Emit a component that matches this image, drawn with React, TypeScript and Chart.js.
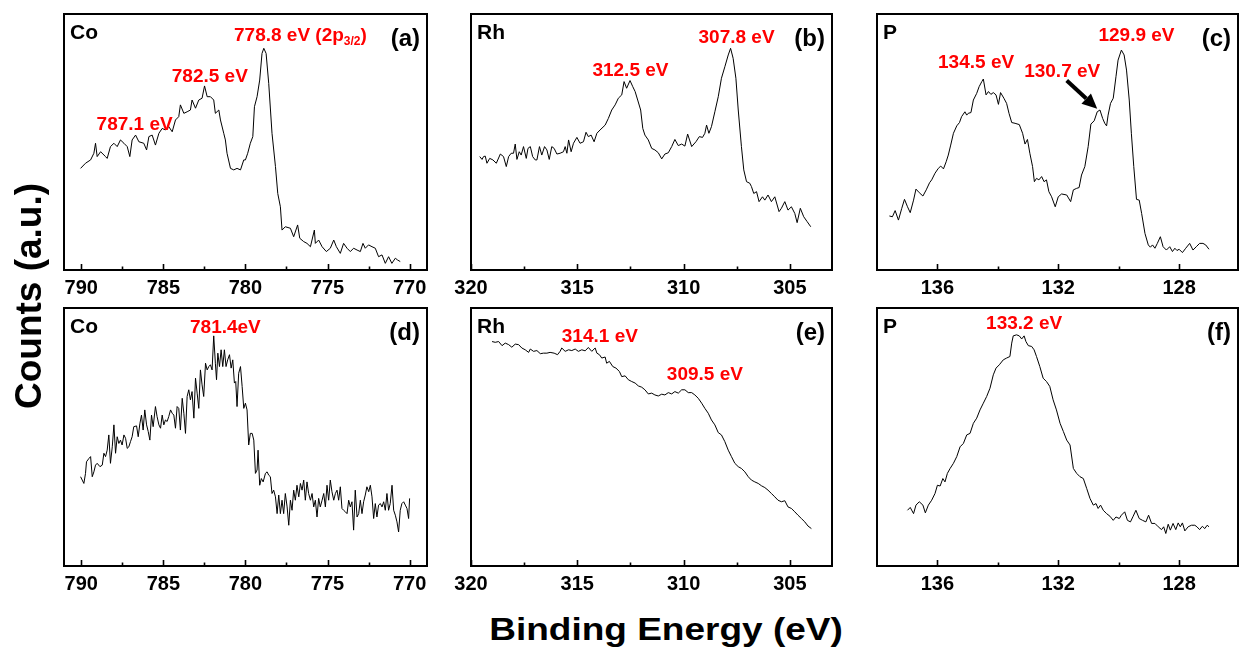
import React, { useEffect, useRef } from "react";
import { Chart, registerables } from "chart.js";

Chart.register(...registerables);

const FONT = '"Liberation Sans", Arial, Helvetica, sans-serif';

// ---------- tick labels ----------
const CO_TICKS = [790, 785, 780, 775, 770];
const CO_MINOR = [787.5, 782.5, 777.5, 772.5];
const RH_TICKS = [320, 315, 310, 305];
const RH_MINOR = [317.5, 312.5, 307.5];
const P_TICKS = [136, 132, 128];
const P_MINOR = [134, 130];

// ---------- (a) Co 2p, before ----------
const A_E = [790.04, 789.74, 789.43, 789.23, 789.13, 789.03, 788.82, 788.52, 788.42, 788.22, 788.01, 787.81, 787.61, 787.40, 787.20, 787.04, 786.90, 786.69, 786.49, 786.19, 786.02, 785.88, 785.68, 785.48, 785.27, 785.07, 784.87, 784.67, 784.46, 784.26, 784.06, 783.96, 783.75, 783.55, 783.35, 783.25, 783.04, 782.84, 782.64, 782.49, 782.33, 782.13, 781.93, 781.83, 781.62, 781.52, 781.32, 781.22, 781.12, 780.91, 780.71, 780.51, 780.30, 780.10, 780.00, 779.86, 779.70, 779.55, 779.45, 779.29, 779.13, 778.99, 778.88, 778.74, 778.58, 778.38, 778.17, 778.03, 777.87, 777.77, 777.57, 777.26, 777.06, 776.82, 776.69, 776.45, 776.25, 776.04, 775.80, 775.74, 775.54, 775.33, 775.07, 774.83, 774.62, 774.46, 774.22, 774.02, 773.81, 773.61, 773.41, 773.20, 773.00, 772.84, 772.70, 772.50, 772.29, 772.09, 771.89, 771.68, 771.48, 771.28, 771.08, 770.87, 770.73, 770.57];
const A_I = [39.7, 41.7, 43.0, 45.6, 49.5, 44.3, 46.2, 44.3, 43.6, 48.2, 49.5, 48.2, 50.8, 49.5, 48.2, 44.3, 50.8, 52.7, 50.1, 49.5, 46.9, 52.1, 52.7, 48.8, 53.4, 55.3, 54.7, 56.0, 54.0, 58.6, 59.9, 64.5, 61.2, 61.8, 62.5, 66.4, 63.2, 66.4, 67.1, 71.9, 67.7, 67.7, 66.4, 61.2, 62.5, 58.6, 53.4, 50.8, 45.6, 39.7, 39.1, 39.7, 39.1, 43.0, 43.0, 45.6, 49.5, 52.1, 63.8, 67.7, 74.2, 84.6, 86.6, 84.6, 72.9, 53.4, 40.4, 29.9, 24.7, 15.6, 16.9, 16.3, 13.0, 17.6, 12.4, 11.1, 10.4, 9.1, 15.6, 10.4, 11.7, 9.1, 7.2, 8.5, 11.7, 9.1, 6.5, 10.4, 8.5, 7.2, 8.5, 7.8, 7.2, 10.4, 8.5, 9.8, 9.1, 8.5, 5.2, 5.9, 2.6, 5.2, 2.6, 4.6, 3.9, 3.3];

// ---------- (b) Rh 3d, before ----------
const B_E = [319.59, 319.48, 319.41, 319.33, 319.25, 319.12, 318.97, 318.81, 318.62, 318.47, 318.34, 318.23, 318.11, 318.00, 317.92, 317.84, 317.73, 317.64, 317.53, 317.40, 317.32, 317.21, 317.10, 316.98, 316.90, 316.78, 316.67, 316.54, 316.43, 316.32, 316.20, 316.09, 315.96, 315.81, 315.65, 315.57, 315.49, 315.41, 315.29, 315.18, 315.02, 314.87, 314.71, 314.59, 314.48, 314.35, 314.21, 314.08, 313.93, 313.69, 313.54, 313.38, 313.22, 313.07, 312.91, 312.80, 312.68, 312.52, 312.39, 312.28, 312.16, 312.02, 311.92, 311.82, 311.66, 311.50, 311.35, 311.19, 311.03, 310.88, 310.72, 310.56, 310.41, 310.25, 310.09, 309.94, 309.81, 309.62, 309.42, 309.26, 309.11, 309.00, 308.92, 308.81, 308.69, 308.53, 308.37, 308.22, 308.06, 307.90, 307.79, 307.67, 307.54, 307.43, 307.28, 307.17, 307.04, 306.89, 306.81, 306.70, 306.57, 306.45, 306.29, 306.18, 306.03, 305.87, 305.71, 305.51, 305.40, 305.24, 305.09, 304.93, 304.77, 304.66, 304.51, 304.35, 304.19, 304.02];
const B_I = [44.3, 43.2, 44.3, 44.5, 41.7, 43.6, 43.0, 41.7, 45.3, 44.3, 40.4, 44.3, 45.6, 45.6, 49.2, 43.2, 46.2, 44.9, 48.2, 43.6, 47.5, 48.2, 44.3, 43.0, 43.0, 48.2, 44.9, 48.2, 46.9, 43.2, 48.2, 47.5, 45.3, 45.6, 46.2, 48.2, 45.6, 50.8, 46.2, 49.5, 51.8, 49.5, 50.1, 53.8, 52.1, 52.7, 50.1, 53.4, 54.7, 56.6, 59.2, 62.5, 64.5, 67.1, 68.4, 73.6, 71.0, 74.0, 71.6, 69.7, 66.4, 62.5, 55.3, 52.7, 50.8, 47.5, 46.9, 45.8, 43.4, 45.3, 45.8, 48.2, 51.0, 48.6, 49.2, 48.4, 53.1, 48.2, 50.1, 52.1, 51.8, 53.4, 56.6, 53.4, 56.0, 61.8, 67.7, 74.9, 79.4, 84.0, 86.6, 82.7, 74.9, 62.5, 48.2, 39.1, 34.5, 33.9, 32.6, 29.9, 30.6, 26.7, 28.6, 27.3, 29.3, 26.7, 28.6, 22.8, 24.1, 26.7, 23.4, 24.7, 22.1, 18.5, 24.1, 20.8, 18.9, 16.9];

// ---------- (c) P 2p, before ----------
const C_E = [137.59, 137.49, 137.40, 137.29, 137.18, 137.09, 136.99, 136.90, 136.79, 136.71, 136.60, 136.48, 136.37, 136.26, 136.19, 136.08, 135.97, 135.89, 135.80, 135.71, 135.64, 135.56, 135.47, 135.36, 135.27, 135.20, 135.09, 135.03, 134.98, 134.89, 134.81, 134.70, 134.62, 134.53, 134.48, 134.39, 134.31, 134.23, 134.15, 134.06, 133.98, 133.91, 133.80, 133.71, 133.63, 133.54, 133.43, 133.29, 133.18, 133.10, 133.02, 132.94, 132.85, 132.79, 132.72, 132.64, 132.55, 132.47, 132.39, 132.31, 132.22, 132.10, 132.00, 131.89, 131.72, 131.59, 131.50, 131.39, 131.31, 131.23, 131.12, 131.01, 130.92, 130.81, 130.71, 130.62, 130.53, 130.46, 130.40, 130.35, 130.27, 130.18, 130.09, 130.02, 129.91, 129.82, 129.74, 129.65, 129.58, 129.50, 129.41, 129.32, 129.24, 129.13, 129.02, 128.95, 128.88, 128.80, 128.72, 128.62, 128.53, 128.42, 128.31, 128.22, 128.14, 128.07, 128.00, 127.89, 127.78, 127.65, 127.54, 127.43, 127.32, 127.21, 127.12, 127.01];
const C_I = [21.1, 20.8, 23.2, 19.5, 24.1, 27.6, 24.7, 22.4, 27.3, 31.6, 30.2, 28.9, 31.3, 34.1, 35.2, 37.8, 39.7, 40.6, 39.5, 42.3, 44.9, 48.8, 53.4, 56.3, 57.6, 59.9, 61.8, 60.5, 61.2, 61.5, 66.4, 69.0, 71.6, 73.6, 74.6, 68.4, 69.7, 68.6, 69.3, 68.4, 64.7, 69.3, 67.1, 65.1, 61.2, 57.6, 57.3, 56.8, 53.4, 49.2, 51.0, 45.6, 40.4, 34.5, 35.8, 35.2, 36.5, 34.5, 35.2, 30.6, 28.6, 24.7, 28.6, 29.7, 29.3, 26.7, 31.3, 31.9, 32.2, 37.1, 40.4, 48.2, 57.0, 58.3, 61.8, 62.5, 59.2, 57.3, 56.3, 60.5, 65.1, 67.1, 75.5, 82.0, 85.9, 84.0, 78.1, 66.4, 53.4, 40.4, 27.6, 27.3, 22.1, 14.3, 9.8, 8.9, 9.8, 8.5, 10.4, 13.0, 9.1, 7.8, 9.1, 7.2, 8.5, 7.6, 8.1, 6.8, 8.5, 10.4, 7.8, 9.1, 10.4, 10.4, 9.8, 8.1];

// ---------- (d) Co 2p, after ----------
const D_E = [790.04, 789.94, 789.84, 789.74, 789.68, 789.53, 789.43, 789.33, 789.23, 789.13, 789.03, 788.86, 788.72, 788.62, 788.52, 788.42, 788.32, 788.22, 788.11, 788.01, 787.91, 787.81, 787.71, 787.61, 787.51, 787.40, 787.30, 787.20, 787.10, 787.00, 786.90, 786.80, 786.63, 786.53, 786.43, 786.33, 786.23, 786.13, 786.02, 785.92, 785.82, 785.72, 785.62, 785.48, 785.38, 785.27, 785.17, 785.07, 784.97, 784.87, 784.77, 784.67, 784.56, 784.46, 784.36, 784.26, 784.16, 784.06, 783.96, 783.85, 783.75, 783.65, 783.55, 783.45, 783.35, 783.25, 783.14, 783.04, 782.94, 782.84, 782.74, 782.64, 782.54, 782.43, 782.33, 782.23, 782.13, 782.03, 781.93, 781.83, 781.76, 781.68, 781.58, 781.48, 781.38, 781.28, 781.18, 781.08, 780.97, 780.87, 780.77, 780.67, 780.59, 780.51, 780.41, 780.30, 780.20, 780.10, 780.00, 779.90, 779.80, 779.70, 779.59, 779.49, 779.39, 779.29, 779.23, 779.13, 779.03, 778.92, 778.78, 778.68, 778.58, 778.48, 778.38, 778.28, 778.17, 778.07, 777.97, 777.87, 777.77, 777.67, 777.57, 777.46, 777.36, 777.26, 777.16, 777.06, 776.96, 776.86, 776.75, 776.65, 776.55, 776.45, 776.35, 776.25, 776.15, 776.04, 775.94, 775.84, 775.74, 775.64, 775.54, 775.44, 775.33, 775.23, 775.13, 775.03, 774.93, 774.83, 774.73, 774.62, 774.52, 774.42, 774.32, 774.22, 774.12, 774.02, 773.91, 773.81, 773.71, 773.61, 773.51, 773.41, 773.31, 773.20, 773.10, 773.00, 772.90, 772.80, 772.70, 772.60, 772.49, 772.39, 772.29, 772.19, 772.09, 771.99, 771.89, 771.78, 771.68, 771.58, 771.48, 771.38, 771.28, 771.18, 771.07, 770.97, 770.87, 770.77, 770.67, 770.57, 770.47, 770.36, 770.26, 770.16, 770.06, 770.00];
const D_I = [34.6, 33.3, 32.0, 35.9, 40.4, 41.7, 42.4, 34.6, 36.5, 39.1, 39.8, 38.5, 39.1, 43.7, 42.4, 44.9, 50.8, 39.8, 46.2, 54.7, 43.7, 50.1, 47.5, 48.8, 46.9, 50.8, 49.5, 45.6, 46.2, 48.2, 50.1, 54.0, 54.3, 50.1, 55.1, 58.5, 52.7, 60.5, 54.7, 52.1, 48.8, 58.5, 54.0, 61.8, 57.9, 54.7, 53.4, 58.5, 54.7, 56.6, 56.0, 57.9, 60.5, 59.2, 58.5, 53.4, 61.8, 61.1, 52.7, 65.0, 59.2, 51.4, 65.7, 68.3, 64.4, 67.6, 57.3, 72.8, 67.0, 61.1, 76.0, 70.2, 65.7, 78.6, 76.0, 77.3, 78.0, 76.0, 89.2, 78.6, 72.2, 82.5, 77.3, 83.8, 77.3, 83.8, 77.3, 79.9, 81.9, 76.7, 79.9, 70.9, 71.5, 61.8, 74.7, 77.3, 69.6, 61.1, 63.1, 60.5, 46.9, 51.4, 51.4, 48.8, 35.9, 37.2, 44.9, 31.3, 33.9, 32.6, 35.9, 36.5, 35.2, 34.6, 28.1, 29.4, 26.8, 20.3, 27.5, 20.3, 25.5, 20.3, 28.1, 22.9, 15.8, 25.5, 21.6, 29.4, 25.5, 31.3, 26.8, 32.0, 29.4, 33.3, 25.5, 32.6, 28.1, 25.5, 28.1, 22.9, 25.5, 19.0, 26.2, 22.9, 25.5, 28.1, 22.9, 31.3, 25.5, 33.3, 28.8, 25.5, 28.1, 29.4, 25.5, 30.7, 22.3, 21.6, 21.0, 20.3, 25.5, 22.9, 24.9, 13.9, 29.4, 19.0, 20.3, 25.5, 20.3, 24.9, 27.5, 30.7, 28.8, 31.3, 26.8, 18.4, 24.2, 19.0, 23.6, 24.2, 22.9, 24.9, 21.6, 28.1, 21.6, 24.2, 31.3, 21.6, 19.7, 17.1, 13.2, 21.6, 24.2, 24.9, 23.6, 22.3, 18.4, 26.2];

// ---------- (e) Rh 3d, after ----------
const E_E = [319.01, 318.86, 318.70, 318.54, 318.39, 318.23, 318.08, 317.92, 317.76, 317.61, 317.45, 317.29, 317.21, 317.06, 316.90, 316.74, 316.59, 316.43, 316.28, 316.09, 315.93, 315.81, 315.73, 315.57, 315.41, 315.26, 315.10, 314.95, 314.79, 314.63, 314.48, 314.32, 314.16, 314.08, 313.96, 313.85, 313.69, 313.62, 313.49, 313.33, 313.18, 313.02, 312.91, 312.75, 312.60, 312.44, 312.28, 312.13, 311.97, 311.82, 311.66, 311.50, 311.35, 311.19, 311.03, 310.88, 310.72, 310.56, 310.41, 310.25, 310.09, 309.94, 309.78, 309.62, 309.47, 309.31, 309.15, 309.00, 308.84, 308.69, 308.53, 308.37, 308.22, 308.06, 307.90, 307.75, 307.59, 307.43, 307.28, 307.12, 306.96, 306.81, 306.65, 306.49, 306.34, 306.18, 306.03, 305.87, 305.71, 305.56, 305.40, 305.24, 305.09, 304.93, 304.77, 304.62, 304.46, 304.30, 304.15, 303.99];
const E_I = [87.0, 86.7, 87.0, 85.4, 86.4, 85.8, 84.8, 86.0, 85.8, 84.5, 83.8, 82.8, 84.1, 83.2, 83.5, 82.3, 82.5, 82.5, 82.8, 82.5, 81.9, 83.2, 84.5, 83.2, 83.8, 83.5, 84.1, 83.2, 83.8, 83.4, 84.7, 83.2, 84.5, 82.5, 81.9, 80.6, 81.0, 78.6, 79.3, 77.3, 76.7, 75.4, 73.4, 73.7, 72.2, 71.5, 70.9, 69.8, 69.3, 68.3, 66.7, 67.0, 66.3, 65.9, 66.6, 66.3, 67.2, 66.7, 67.6, 67.0, 68.3, 68.3, 67.2, 67.2, 66.3, 65.0, 63.1, 61.1, 59.2, 56.6, 54.7, 51.7, 50.8, 48.2, 44.9, 42.4, 39.8, 38.5, 37.8, 36.5, 34.6, 33.3, 32.6, 32.0, 31.1, 30.4, 29.4, 28.1, 26.8, 25.5, 24.9, 25.3, 22.9, 22.3, 21.0, 19.7, 18.4, 17.1, 15.5, 14.5];

// ---------- (f) P 2p, after ----------
const F_E = [136.99, 136.90, 136.79, 136.71, 136.60, 136.48, 136.40, 136.30, 136.19, 136.08, 136.00, 135.91, 135.82, 135.75, 135.67, 135.58, 135.47, 135.36, 135.25, 135.14, 135.03, 134.92, 134.81, 134.70, 134.59, 134.48, 134.37, 134.26, 134.15, 134.06, 133.95, 133.82, 133.71, 133.60, 133.54, 133.49, 133.38, 133.29, 133.21, 133.13, 133.07, 132.99, 132.88, 132.80, 132.72, 132.61, 132.50, 132.39, 132.28, 132.17, 132.06, 131.94, 131.83, 131.72, 131.61, 131.50, 131.39, 131.28, 131.17, 131.06, 130.95, 130.84, 130.75, 130.68, 130.60, 130.51, 130.40, 130.29, 130.18, 130.09, 129.98, 129.91, 129.80, 129.71, 129.61, 129.52, 129.43, 129.32, 129.21, 129.10, 129.01, 128.91, 128.80, 128.69, 128.58, 128.51, 128.44, 128.36, 128.29, 128.20, 128.11, 128.03, 127.96, 127.89, 127.81, 127.70, 127.59, 127.48, 127.41, 127.32, 127.23, 127.15, 127.07, 127.01];
const F_I = [21.6, 22.7, 20.3, 23.6, 24.9, 23.6, 20.6, 23.6, 25.5, 28.1, 31.3, 31.0, 33.9, 32.6, 35.9, 37.8, 39.8, 42.4, 46.2, 47.5, 50.8, 51.4, 55.3, 57.3, 60.5, 63.1, 65.7, 68.9, 74.1, 76.7, 78.0, 79.9, 80.6, 81.2, 86.4, 89.2, 89.6, 89.2, 88.0, 89.2, 87.0, 85.4, 85.1, 83.8, 81.2, 77.3, 72.8, 71.5, 69.6, 64.4, 60.5, 55.3, 52.1, 48.8, 46.9, 37.8, 35.9, 34.6, 33.9, 30.1, 26.2, 23.6, 24.2, 22.3, 23.6, 21.6, 20.3, 19.3, 17.7, 19.0, 18.4, 19.7, 21.0, 17.7, 17.1, 19.3, 21.6, 18.4, 17.7, 17.1, 19.7, 16.5, 16.5, 15.2, 14.1, 15.2, 12.6, 16.2, 13.9, 16.5, 14.1, 16.7, 15.2, 16.7, 13.6, 15.2, 15.8, 15.8, 15.2, 14.1, 15.4, 14.5, 15.8, 15.2];

// ---------- peak annotations (energy, counts) ----------
const NOTES_A = [
  { text: "787.1 eV", x: 786.75, y: 54.7 },
  { text: "782.5 eV", x: 782.17, y: 73.6 },
  { text: "778.8 eV (2p", sub: "3/2", after: ")", x: 776.65, y: 89.4 },
];
const NOTES_B = [
  { text: "312.5 eV", x: 312.5, y: 75.8 },
  { text: "307.8 eV", x: 307.51, y: 88.8 },
];
const NOTES_C = [
  { text: "134.5 eV", x: 134.72, y: 79.0 },
  { text: "130.7 eV", x: 131.87, y: 75.5 },
  { text: "129.9 eV", x: 129.41, y: 89.6 },
];
const NOTES_D = [{ text: "781.4eV", x: 781.22, y: 90.3 }];
const NOTES_E = [
  { text: "314.1 eV", x: 313.94, y: 86.7 },
  { text: "309.5 eV", x: 309.0, y: 72.2 },
];
const NOTES_F = [{ text: "133.2 eV", x: 133.13, y: 91.8 }];
const ARROW_C = { from: [131.72, 74.0], to: [130.71, 63.0] };

// ---------- layout ----------
const PAD_L = 30;
const PAD_R = 30;
const PAD_T = 10;
const AXIS_H = 40;

const CO_RANGE = [768.94, 791.05];
const RH_RANGE = [303.02, 320.0];
const P_RANGE = [126.05, 138.0];

const PANELS = [
  { key: "a", elem: "Co", letter: "(a)", e: A_E, i: A_I, range: CO_RANGE, ticks: CO_TICKS, minor: CO_MINOR, notes: NOTES_A, arrow: null, left: 64, top: 14, w: 363, h: 256 },
  { key: "b", elem: "Rh", letter: "(b)", e: B_E, i: B_I, range: RH_RANGE, ticks: RH_TICKS, minor: RH_MINOR, notes: NOTES_B, arrow: null, left: 471, top: 14, w: 361, h: 256 },
  { key: "c", elem: "P", letter: "(c)", e: C_E, i: C_I, range: P_RANGE, ticks: P_TICKS, minor: P_MINOR, notes: NOTES_C, arrow: ARROW_C, left: 877, top: 14, w: 361, h: 256 },
  { key: "d", elem: "Co", letter: "(d)", e: D_E, i: D_I, range: CO_RANGE, ticks: CO_TICKS, minor: CO_MINOR, notes: NOTES_D, arrow: null, left: 64, top: 308, w: 363, h: 258 },
  { key: "e", elem: "Rh", letter: "(e)", e: E_E, i: E_I, range: RH_RANGE, ticks: RH_TICKS, minor: RH_MINOR, notes: NOTES_E, arrow: null, left: 471, top: 308, w: 361, h: 258 },
  { key: "f", elem: "P", letter: "(f)", e: F_E, i: F_I, range: P_RANGE, ticks: P_TICKS, minor: P_MINOR, notes: NOTES_F, arrow: null, left: 877, top: 308, w: 361, h: 258 },
];

function makeDecor(p: any) {
  return {
    id: "decor_" + p.key,
    afterDraw(chart: any) {
      const ctx = chart.ctx;
      const a = chart.chartArea;
      const xs = chart.scales.x;
      const ys = chart.scales.y;
      ctx.save();
      ctx.strokeStyle = "#000";
      ctx.lineCap = "butt";
      ctx.lineWidth = 1.6;
      for (const v of p.ticks) {
        const px = Math.round(xs.getPixelForValue(v)) + 0.5;
        ctx.beginPath();
        ctx.moveTo(px, a.bottom);
        ctx.lineTo(px, a.bottom - 6);
        ctx.stroke();
      }
      for (const v of p.minor) {
        const px = Math.round(xs.getPixelForValue(v)) + 0.5;
        ctx.beginPath();
        ctx.moveTo(px, a.bottom);
        ctx.lineTo(px, a.bottom - 3.5);
        ctx.stroke();
      }
      ctx.lineWidth = 2;
      ctx.strokeRect(a.left, a.top, a.right - a.left, a.bottom - a.top);

      ctx.fillStyle = "#000";
      ctx.textBaseline = "alphabetic";
      ctx.textAlign = "left";
      ctx.font = `bold 21px ${FONT}`;
      ctx.fillText(p.elem, a.left + 6, a.top + 25);
      ctx.textAlign = "right";
      ctx.font = `bold 24px ${FONT}`;
      ctx.fillText(p.letter, a.right - 7, a.top + 32);

      ctx.fillStyle = "#ff0000";
      for (const n of p.notes) {
        const cx = xs.getPixelForValue(n.x);
        const cy = ys.getPixelForValue(n.y);
        if (n.sub) {
          ctx.font = `bold 19px ${FONT}`;
          const w1 = ctx.measureText(n.text).width;
          const w3 = ctx.measureText(n.after).width;
          ctx.font = `bold 12px ${FONT}`;
          const w2 = ctx.measureText(n.sub).width;
          const x0 = cx - (w1 + w2 + w3) / 2;
          ctx.textAlign = "left";
          ctx.font = `bold 19px ${FONT}`;
          ctx.fillText(n.text, x0, cy);
          ctx.font = `bold 12px ${FONT}`;
          ctx.fillText(n.sub, x0 + w1, cy + 4);
          ctx.font = `bold 19px ${FONT}`;
          ctx.fillText(n.after, x0 + w1 + w2, cy);
        } else {
          ctx.textAlign = "center";
          ctx.font = `bold 19px ${FONT}`;
          ctx.fillText(n.text, cx, cy);
        }
      }

      if (p.arrow) {
        const x1 = xs.getPixelForValue(p.arrow.from[0]);
        const y1 = ys.getPixelForValue(p.arrow.from[1]);
        const x2 = xs.getPixelForValue(p.arrow.to[0]);
        const y2 = ys.getPixelForValue(p.arrow.to[1]);
        const ang = Math.atan2(y2 - y1, x2 - x1);
        const headLen = 15;
        const headHalf = 7;
        const bx = x2 - headLen * Math.cos(ang);
        const by = y2 - headLen * Math.sin(ang);
        ctx.strokeStyle = "#000";
        ctx.fillStyle = "#000";
        ctx.lineWidth = 4;
        ctx.beginPath();
        ctx.moveTo(x1, y1);
        ctx.lineTo(bx, by);
        ctx.stroke();
        ctx.beginPath();
        ctx.moveTo(x2, y2);
        ctx.lineTo(bx + headHalf * Math.sin(ang), by - headHalf * Math.cos(ang));
        ctx.lineTo(bx - headHalf * Math.sin(ang), by + headHalf * Math.cos(ang));
        ctx.closePath();
        ctx.fill();
      }
      ctx.restore();
    },
  };
}

function Panel({ p }: { p: any }) {
  const ref = useRef<HTMLCanvasElement | null>(null);
  useEffect(() => {
    if (!ref.current) return;
    const pts = p.e.map((x: number, k: number) => ({ x, y: p.i[k] })).filter((d: any) => d.y !== undefined);
    const chart = new Chart(ref.current, {
      type: "line",
      data: {
        datasets: [
          {
            data: pts,
            borderColor: "#000",
            borderWidth: 1,
            pointRadius: 0,
            fill: false,
            tension: 0,
          },
        ],
      },
      options: {
        animation: false,
        responsive: false,
        devicePixelRatio: 1,
        events: [],
        layout: { padding: { left: PAD_L, right: PAD_R, top: PAD_T, bottom: 0 } },
        plugins: { legend: { display: false }, tooltip: { enabled: false }, title: { display: false } },
        scales: {
          x: {
            type: "linear",
            reverse: true,
            min: p.range[0],
            max: p.range[1],
            afterBuildTicks: (s: any) => {
              s.ticks = p.ticks.map((v: number) => ({ value: v }));
            },
            afterFit: (s: any) => {
              s.height = AXIS_H;
            },
            grid: { display: false, drawTicks: false },
            border: { display: false },
            ticks: {
              color: "#000",
              font: { family: FONT, size: 20, weight: "bold" },
              padding: 6,
              maxRotation: 0,
              autoSkip: false,
              includeBounds: false,
            },
          },
          y: { type: "linear", display: false, min: 0, max: 100 },
        },
      } as any,
      plugins: [makeDecor(p)],
    } as any);
    return () => chart.destroy();
  }, []);
  return (
    <canvas
      ref={ref}
      width={p.w + PAD_L + PAD_R}
      height={p.h + PAD_T + AXIS_H}
      style={{ position: "absolute", left: p.left - PAD_L, top: p.top - PAD_T }}
    />
  );
}

export default function App() {
  return (
    <div
      style={{
        position: "absolute",
        left: 0,
        top: 0,
        width: 1239,
        height: 649,
        overflow: "hidden",
        background: "#fff",
        fontFamily: FONT,
        color: "#000",
      }}
    >
      {PANELS.map((p) => (
        <Panel key={p.key} p={p} />
      ))}
      <div
        style={{
          position: "absolute",
          left: 29 - 170,
          top: 296 - 22,
          width: 340,
          height: 44,
          lineHeight: "44px",
          textAlign: "center",
          fontSize: 37,
          fontWeight: "bold",
          whiteSpace: "nowrap",
          transform: "rotate(-90deg)",
        }}
      >
        Counts (a.u.)
      </div>
      <div
        style={{
          position: "absolute",
          left: 366,
          top: 606,
          width: 600,
          height: 44,
          lineHeight: "44px",
          textAlign: "center",
          fontSize: 37,
          fontWeight: "bold",
          whiteSpace: "nowrap",
          transform: "scaleY(0.87)",
          transformOrigin: "50% 35px",
        }}
      >
        Binding Energy (eV)
      </div>
    </div>
  );
}
